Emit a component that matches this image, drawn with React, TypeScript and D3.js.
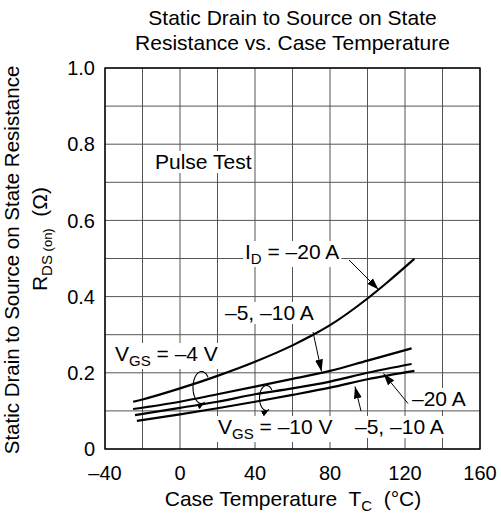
import React, { useEffect, useRef } from "react";
import * as d3 from "d3";

// ---- data ----
const xTicks = [-40, 0, 40, 80, 120, 160];
const xTickLabels = ["–40", "0", "40", "80", "120", "160"];
const yTicks = [0, 0.2, 0.4, 0.6, 0.8, 1.0];
const yTickLabels = ["0", "0.2", "0.4", "0.6", "0.8", "1.0"];
const xGrid = [-40, -20, 0, 20, 40, 60, 80, 100, 120, 140, 160];
const yGrid = [0, 0.1, 0.2, 0.3, 0.4, 0.5, 0.6, 0.7, 0.8, 0.9, 1.0];

// VGS = -4 V, ID = -20 A
const c1T = [-25, -20, 0, 20, 40, 60, 70, 80, 100, 110, 125];
const c1R = [0.124, 0.13, 0.159, 0.192, 0.229, 0.272, 0.297, 0.325, 0.395, 0.435, 0.499];
// VGS = -4 V, ID = -5, -10 A
const c2T = [-25, 0, 20, 40, 60, 80, 100, 123.5];
const c2R = [0.105, 0.124, 0.1436, 0.1636, 0.184, 0.205, 0.232, 0.264];
// VGS = -10 V, ID = -20 A
const c3T = [-24, 0, 20, 40, 60, 80, 100, 123.5];
const c3R = [0.089, 0.108, 0.124, 0.1436, 0.159, 0.177, 0.2, 0.223];
// VGS = -10 V, ID = -5, -10 A
const c4T = [-23, 0, 20, 40, 60, 80, 100, 125];
const c4R = [0.074, 0.091, 0.107, 0.124, 0.142, 0.161, 0.183, 0.205];

const curves = [
  { t: c1T, r: c1R },
  { t: c2T, r: c2R },
  { t: c3T, r: c3R },
  { t: c4T, r: c4R },
];

const W = 501;
const H = 517;
const FONT = "'Liberation Sans', Arial, Helvetica, sans-serif";

export default function App() {
  const ref = useRef<SVGSVGElement>(null);

  useEffect(() => {
    const svg = d3.select(ref.current);
    svg.selectAll("*").remove();

    const x = d3.scaleLinear().domain([-40, 160]).range([105, 480]);
    const y = d3.scaleLinear().domain([0, 1]).range([449, 68]);

    const defs = svg.append("defs");
    defs
      .append("marker")
      .attr("id", "ah")
      .attr("viewBox", "0 0 12 8")
      .attr("refX", 12)
      .attr("refY", 4)
      .attr("markerWidth", 12)
      .attr("markerHeight", 8)
      .attr("markerUnits", "userSpaceOnUse")
      .attr("orient", "auto")
      .append("path")
      .attr("d", "M0,0 L12,4 L0,8 Z")
      .attr("fill", "#000");
    defs
      .append("marker")
      .attr("id", "ahs")
      .attr("viewBox", "0 0 8 6")
      .attr("refX", 8)
      .attr("refY", 3)
      .attr("markerWidth", 8)
      .attr("markerHeight", 6)
      .attr("markerUnits", "userSpaceOnUse")
      .attr("orient", "auto")
      .append("path")
      .attr("d", "M0,0 L8,3 L0,6 Z")
      .attr("fill", "#000");

    const g = svg.append("g");

    // grid
    g.selectAll(".vg")
      .data(xGrid)
      .enter()
      .append("line")
      .attr("x1", (d) => x(d))
      .attr("x2", (d) => x(d))
      .attr("y1", y(0))
      .attr("y2", y(1))
      .attr("stroke", "#555")
      .attr("stroke-width", 1);
    g.selectAll(".hg")
      .data(yGrid)
      .enter()
      .append("line")
      .attr("x1", x(-40))
      .attr("x2", x(160))
      .attr("y1", (d) => y(d))
      .attr("y2", (d) => y(d))
      .attr("stroke", "#555")
      .attr("stroke-width", 1);

    // labels with white background
    const labels = g.append("g");
    const bgLayer = labels.append("g");
    const txtLayer = labels.append("g");

    type Part = { s: string; sub?: boolean };
    const addLabel = (px: number, py: number, parts: Part[]) => {
      const t = txtLayer
        .append("text")
        .attr("x", px)
        .attr("y", py)
        .attr("font-family", FONT)
        .attr("font-size", 21)
        .attr("fill", "#000");
      let inSub = false;
      parts.forEach((p) => {
        const ts = t.append("tspan").text(p.s);
        if (p.sub && !inSub) {
          ts.attr("dy", 5).attr("font-size", 15);
          inSub = true;
        } else if (!p.sub && inSub) {
          ts.attr("dy", -5);
          inSub = false;
        } else if (p.sub) {
          ts.attr("font-size", 15);
        }
      });
      const bb = (t.node() as SVGTextElement).getBBox();
      bgLayer
        .append("rect")
        .attr("x", bb.x - 2)
        .attr("y", bb.y + 1)
        .attr("width", bb.width + 4)
        .attr("height", bb.height - 1)
        .attr("fill", "#fff");
    };

    addLabel(155, 169, [{ s: "Pulse Test" }]);
    addLabel(245, 259, [{ s: "I" }, { s: "D", sub: true }, { s: " = –20 A" }]);
    addLabel(225, 320, [{ s: "–5, –10 A" }]);
    addLabel(115, 361, [{ s: "V" }, { s: "GS", sub: true }, { s: " = –4 V" }]);
    addLabel(412, 406, [{ s: "–20 A" }]);
    addLabel(218, 434, [{ s: "V" }, { s: "GS", sub: true }, { s: " = –10 V" }]);
    addLabel(355, 434, [{ s: "–5, –10 A" }]);

    // border
    g.append("rect")
      .attr("x", x(-40))
      .attr("y", y(1))
      .attr("width", x(160) - x(-40))
      .attr("height", y(0) - y(1))
      .attr("fill", "none")
      .attr("stroke", "#000")
      .attr("stroke-width", 1.4);

    // curves
    const line = d3
      .line<[number, number]>()
      .x((d) => x(d[0]))
      .y((d) => y(d[1]))
      .curve(d3.curveMonotoneX);
    curves.forEach((c) => {
      const pts: [number, number][] = c.t.map((t, i) => [t, c.r[i]]);
      g.append("path")
        .attr("d", line(pts) as string)
        .attr("fill", "none")
        .attr("stroke", "#000")
        .attr("stroke-width", 2.2);
    });

    // arrows
    const arrows: [number, number, number, number][] = [
      [349, 260, 378.5, 289.5],
      [313, 332, 321.5, 371.5],
      [408, 403.5, 383.5, 373.5],
      [361, 411, 355, 386.5],
    ];
    arrows.forEach((a) => {
      g.append("line")
        .attr("x1", a[0])
        .attr("y1", a[1])
        .attr("x2", a[2])
        .attr("y2", a[3])
        .attr("stroke", "#000")
        .attr("stroke-width", 1)
        .attr("marker-end", "url(#ah)");
    });

    // loops
    const loops = [
      { cx: 201.5, cy: 387.5, rx: 8.5, ry: 16 },
      { cx: 266.5, cy: 398, rx: 7, ry: 12.5 },
    ];
    const loopLine = d3
      .line<[number, number]>()
      .x((d) => d[0])
      .y((d) => d[1]);
    loops.forEach((l) => {
      const angs = d3.range(-40, -292, -6).concat([-292]);
      const pts: [number, number][] = angs.map((a) => [
        l.cx + l.rx * Math.cos((a * Math.PI) / 180),
        l.cy + l.ry * Math.sin((a * Math.PI) / 180),
      ]);
      g.append("path")
        .attr("d", loopLine(pts) as string)
        .attr("fill", "none")
        .attr("stroke", "#000")
        .attr("stroke-width", 1.1)
        .attr("marker-end", "url(#ahs)");
    });

    // tick labels
    g.selectAll(".xt")
      .data(xTicks)
      .enter()
      .append("text")
      .attr("x", (d) => x(d))
      .attr("y", 480)
      .attr("text-anchor", "middle")
      .attr("font-family", FONT)
      .attr("font-size", 20)
      .text((d, i) => xTickLabels[i]);
    g.selectAll(".yt")
      .data(yTicks)
      .enter()
      .append("text")
      .attr("x", 95)
      .attr("y", (d) => y(d))
      .attr("dy", "0.36em")
      .attr("text-anchor", "end")
      .attr("font-family", FONT)
      .attr("font-size", 20)
      .text((d, i) => yTickLabels[i]);

    // titles
    const title = g
      .append("text")
      .attr("text-anchor", "middle")
      .attr("font-family", FONT)
      .attr("font-size", 21);
    title.append("tspan").attr("x", 292.5).attr("y", 25).text("Static Drain to Source on State");
    title.append("tspan").attr("x", 292.5).attr("y", 50).text("Resistance vs. Case Temperature");

    const xt = g
      .append("text")
      .attr("x", 293)
      .attr("y", 506)
      .attr("text-anchor", "middle")
      .attr("font-family", FONT)
      .attr("font-size", 21)
      .style("white-space", "pre");
    xt.append("tspan").text("Case Temperature  T");
    xt.append("tspan").attr("dy", 5).attr("font-size", 15).text("C");
    xt.append("tspan").attr("dy", -5).text("  (°C)");

    g.append("text")
      .attr("transform", "translate(18.5,260) rotate(-90)")
      .attr("text-anchor", "middle")
      .attr("font-family", FONT)
      .attr("font-size", 20.5)
      .text("Static Drain to Source on State Resistance");

    const yt2 = g
      .append("text")
      .attr("transform", "translate(47,239) rotate(-90)")
      .attr("text-anchor", "middle")
      .attr("font-family", FONT)
      .attr("font-size", 21)
      .style("white-space", "pre");
    yt2.append("tspan").text("R");
    yt2.append("tspan").attr("dy", 5).attr("font-size", 15).text("DS");
    yt2.append("tspan").attr("font-size", 13).text(" (on)");
    yt2.append("tspan").attr("dy", -5).text("  (Ω)");
  }, []);

  return (
    <svg
      ref={ref}
      width={W}
      height={H}
      style={{ position: "absolute", left: 0, top: 0, background: "#fff" }}
    />
  );
}
